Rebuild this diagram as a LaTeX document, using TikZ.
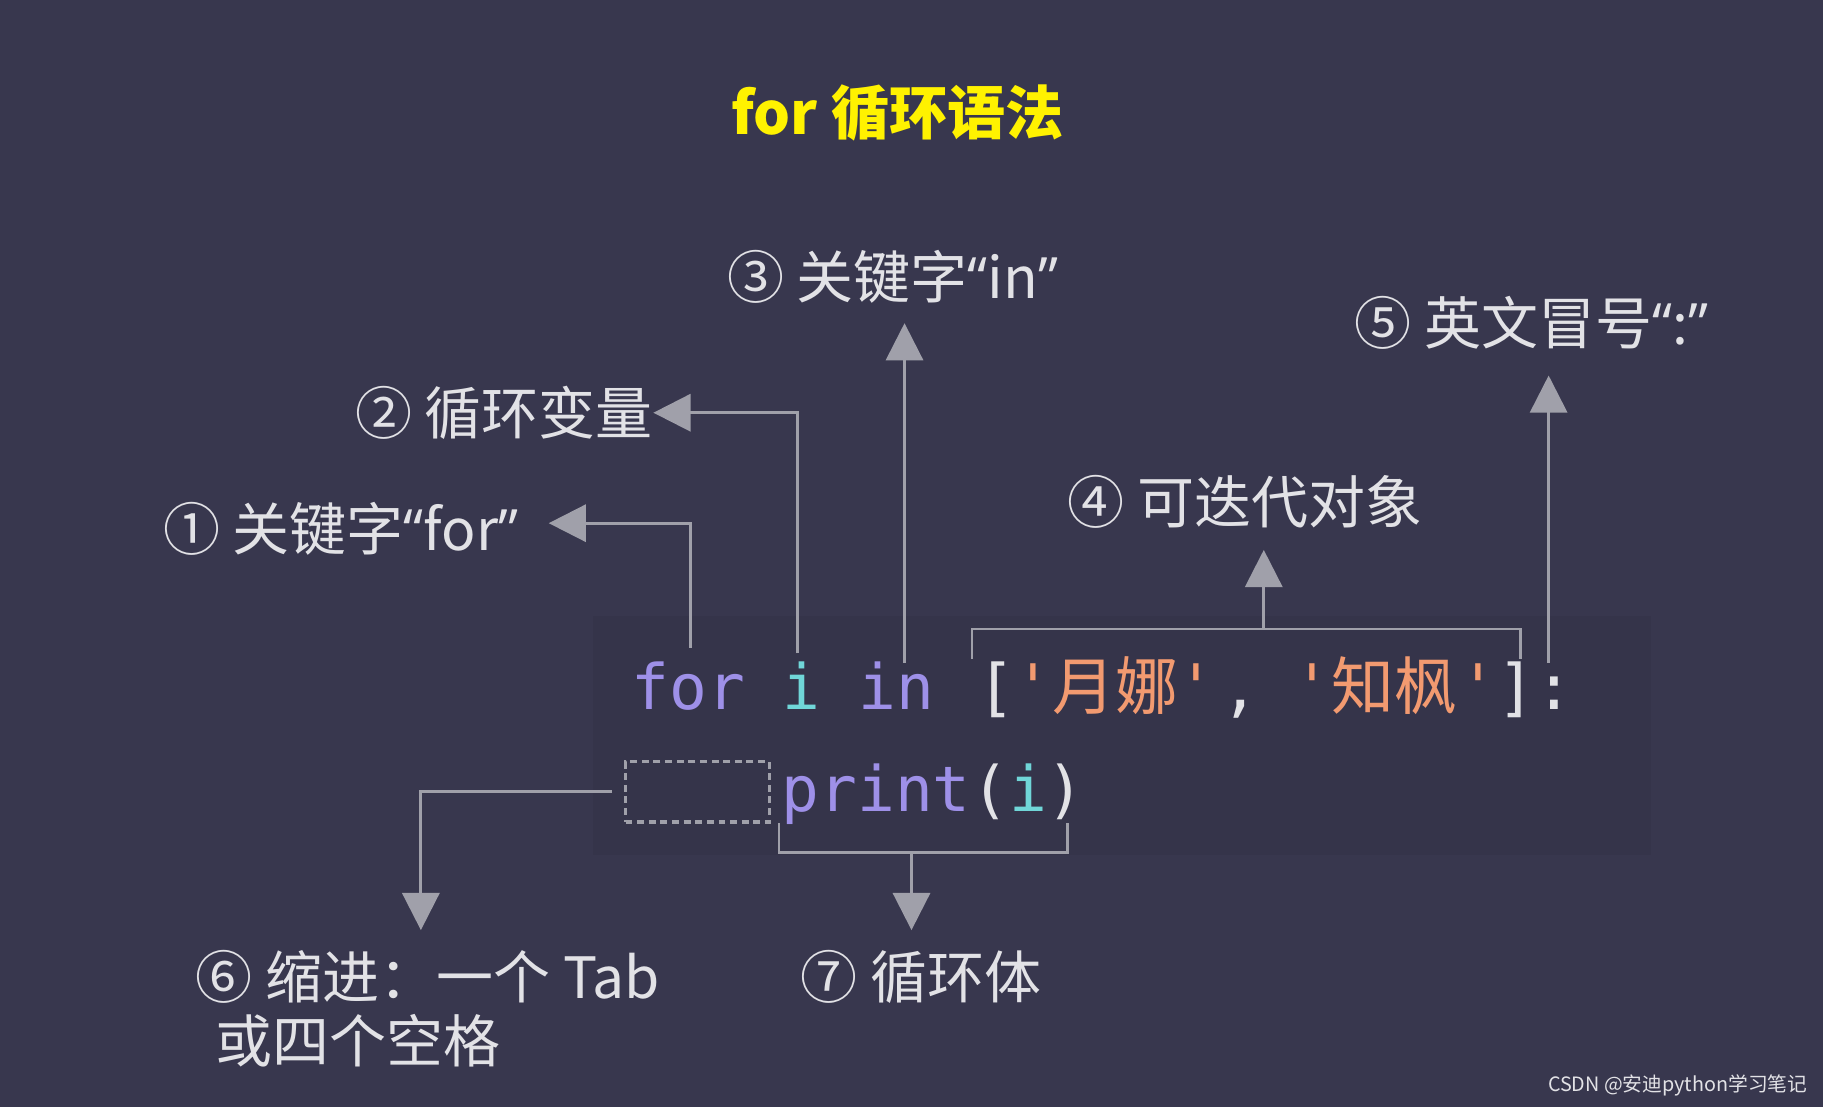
\documentclass[tikz,border=0pt]{standalone}
\usepackage{fontspec}
\newfontfamily\cjk{Noto Sans CJK SC}
\newfontfamily\qf{Open Sans}
\setmonofont{DejaVu Sans Mono}
\usetikzlibrary{arrows.meta}
\definecolor{bg}{HTML}{38374E}
\definecolor{codebg}{HTML}{35344A}
\definecolor{lbl}{HTML}{E2E2E6}
\definecolor{arr}{HTML}{A0A0AA}
\definecolor{kw}{HTML}{9E90E8}
\definecolor{var}{HTML}{70D6D8}
\definecolor{str}{HTML}{F29A70}
\definecolor{ttl}{HTML}{FFF200}
\newcommand{\myLq}{{\qf “}}
\newcommand{\myRq}{{\qf ”}}
\newcommand{\cn}[1]{{\qf\fontsize{28}{29}\selectfont #1}}
\begin{document}
\begin{tikzpicture}[x=0.5pt,y=-0.5pt,
  lab/.style={anchor=west,inner sep=0,text=lbl,font=\cjk\fontsize{24.5}{29}\selectfont},
  code/.style={anchor=base west,inner sep=0,font=\ttfamily\fontsize{27}{30}\selectfont},
  ccode/.style={anchor=base west,inner sep=0,font=\cjk\fontsize{27}{30}\selectfont},
  con/.style={draw=arr,line width=1.2pt},
  tip/.style={con,-{Triangle[length=16pt,width=16pt]}}]
\fill[bg] (0,0) rectangle (1568,952);
\useasboundingbox (0,0) rectangle (1568,952);
\fill[codebg] (510,530) rectangle (1420,735);
\node[inner sep=0,text=ttl,font=\cjk\bfseries\fontsize{25}{30}\selectfont] (title) at (772,97) {for 循环语法};
% labels
\node[lab] (l1) at (140,455) {① 关键字\myLq for\myRq};
\node[lab] (l2) at (305,355) {② 循环变量};
\node[lab] (l3) at (625,238) {③ 关键字\myLq in\myRq};
\node[lab] (l4) at (918,432) {④ 可迭代对象};
\node[lab] (l5) at (1165,278) {⑤ 英文冒号\myLq :\myRq};
\node[lab] (l6) at (168,840) {⑥ 缩进：一个 Tab};
\node[lab] (l6b) at (185,895) {或四个空格};
\node[lab] (l7) at (688,840) {⑦ 循环体};
% code
\node[code,text=kw] (cfor) at (543,610) {for};
\node[code,text=var] (ci) at (673,610) {i};
\node[code,text=kw] (cin) at (738,610) {in};
\node[code,text=lbl] (cb) at (840,610) {[};
\node[code,text=str] (q1) at (872,610) {'};
\node[ccode,text=str] (s1) at (905,610) {月娜};
\node[code,text=str] (q2) at (1012,610) {'};
\node[code,text=lbl] (cc) at (1050,610) {,};
\node[code,text=str] (q3) at (1112,610) {'};
\node[ccode,text=str] (s2) at (1145,610) {知枫};
\node[code,text=str] (q4) at (1255,610) {'};
\node[code,text=lbl] (cb2) at (1288,610) {]:};
\node[code,text=kw] (cpr) at (672,698) {print};
\node[code,text=lbl] (cp1) at (835,698) {(};
\node[code,text=var] (ci2) at (868,698) {i};
\node[code,text=lbl] (cp2) at (900,698) {)};
\node[draw=arr,dash pattern=on 3pt off 2pt,line width=1.5pt,minimum width=62pt,minimum height=26pt,inner sep=0] (tab) at (600,681) {};
% coordinates
\coordinate (a1) at (594,557); \coordinate (a1e) at (472,450);
\coordinate (a2) at (686,562); \coordinate (a2e) at (562,355);
\coordinate (a3) at (778,570); \coordinate (a3e) at (778,278);
\coordinate (b4l) at (836,567); \coordinate (b4r) at (1308,567);
\coordinate (b4m) at (1087,541); \coordinate (a4e) at (1087,473);
\coordinate (a5) at (1332,570); \coordinate (a5e) at (1332,323);
\coordinate (a6e) at (362,800);
\coordinate (b7l) at (670,708); \coordinate (b7r) at (918,708);
\coordinate (b7m) at (784,733); \coordinate (a7e) at (784,800);
\draw[tip] (a1) |- (a1e);
\draw[tip] (a2) |- (a2e);
\draw[tip] (a3) -- (a3e);
\draw[con] (b4l) |- (b4m) -| (b4r);
\draw[tip] (b4m) -- (a4e);
\draw[tip] (a5) -- (a5e);
\draw[tip] ([xshift=-5]tab.west) -| (a6e);
\draw[con] (b7l) |- (b7m) -| (b7r);
\draw[tip] (b7m) -- (a7e);
\node[anchor=east,inner sep=0,text=lbl,font=\cjk\fontsize{8.5}{10}\selectfont] (wm) at (1555,934) {CSDN @安迪python学习笔记};
\end{tikzpicture}
\end{document}
